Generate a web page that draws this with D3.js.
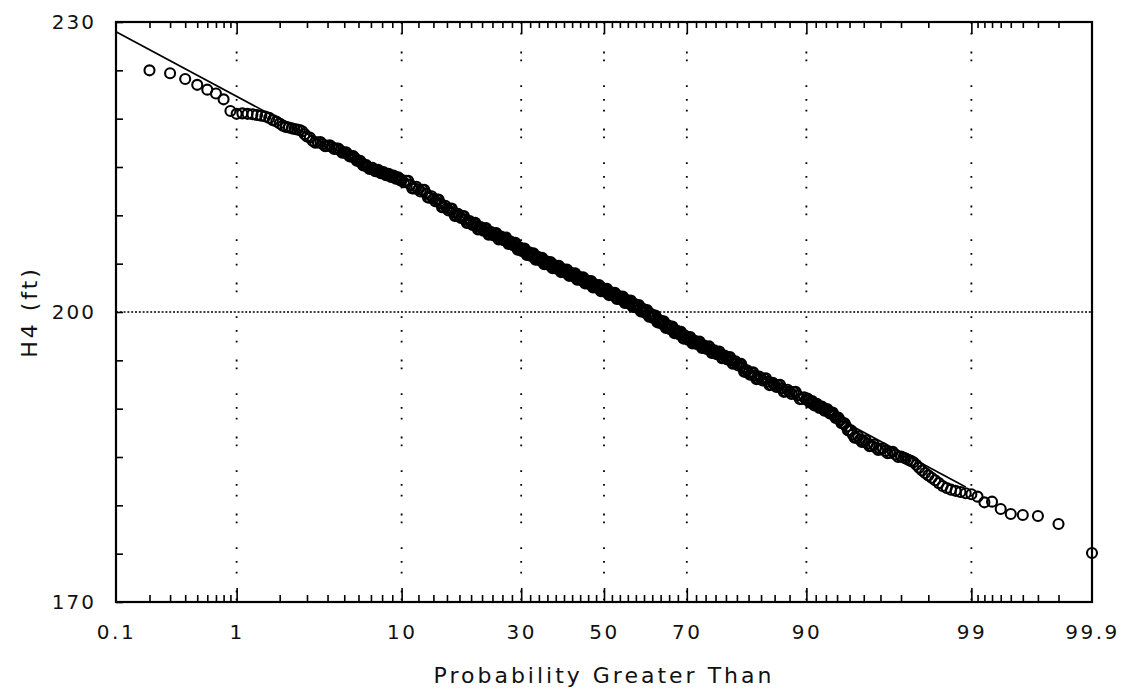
<!DOCTYPE html>
<html><head><meta charset="utf-8">
<script src="https://cdn.jsdelivr.net/npm/d3@7/dist/d3.min.js"></script>
<style>
body{margin:0;background:#fff}
text{font-family:"DejaVu Sans",sans-serif;fill:#111}
</style>
</head><body>
<svg id="chart" width="1125" height="690"></svg>
<script>
// ---------- data ----------
// Probability greater than (%) and H4 (ft) of the plotted observations
const upperProb = [0.2,0.3,0.4,0.5,0.6,0.7,0.8,0.9,1.0,1.1,1.2,1.3,1.4,1.5,1.6,1.7,1.8,1.9,2.0,2.1,2.2,2.3,2.4,2.5,2.6,2.7,2.8,2.9,3.0,3.25,3.5,3.75,4.0,4.25,4.5,4.75,5.0,5.25,5.5,5.75,6.0,6.25,6.5,6.75,7.0,7.25,7.5,7.75,8.0,8.25,8.5,8.75,9.0,9.25,9.5,9.75];
const upperH4 = [225.0,224.7,224.1,223.5,223.0,222.6,222.0,220.8,220.5,220.55,220.5,220.45,220.38,220.3,220.22,220.08,219.85,219.7,219.5,219.28,219.15,219.08,219.0,218.93,218.88,218.83,218.7,218.4,218.15,217.72,217.55,217.36,217.2,217.06,216.9,216.7,216.5,216.3,216.1,215.9,215.65,215.4,215.15,214.98,214.85,214.74,214.63,214.52,214.42,214.32,214.22,214.13,214.04,213.95,213.86,213.77];
const upperFineProb = [3.125,3.375,3.625,3.875,4.125,4.375,4.625,4.875,5.125,5.375,5.625,5.875,6.125,6.375,6.625,6.875,7.125,7.375,7.625,7.875,8.125,8.375,8.625,8.875,9.125,9.375,9.625,9.875];
const upperFineH4 = [218.05,217.52,217.58,217.16,217.25,216.86,216.92,216.48,216.52,216.08,216.12,215.66,215.65,215.16,215.19,214.8,214.92,214.57,214.7,214.35,214.49,214.15,214.3,213.97,214.12,213.79,213.94,213.6];

const middleProb = [10,10.5,11,11.5,12,12.5,13,13.5,14,14.5,15,15.5,16,16.5,17,17.5,18,18.5,19,19.5,20,20.5,21,21.5,22,22.5,23,23.5,24,24.5,25,25.5,26,26.5,27,27.5,28,28.5,29,29.5,30,30.5,31,31.5,32,32.5,33,33.5,34,34.5,35,35.5,36,36.5,37,37.5,38,38.5,39,39.5,40,40.5,41,41.5,42,42.5,43,43.5,44,44.5,45,45.5,46,46.5,47,47.5,48,48.5,49,49.5,50,50.5,51,51.5,52,52.5,53,53.5,54,54.5,55,55.5,56,56.5,57,57.5,58,58.5,59,59.5,60,60.5,61,61.5,62,62.5,63,63.5,64,64.5,65,65.5,66,66.5,67,67.5,68,68.5,69,69.5,70,70.5,71,71.5,72,72.5,73,73.5,74,74.5,75,75.5,76,76.5,77,77.5,78,78.5,79,79.5,80,80.5,81,81.5,82,82.5,83,83.5,84,84.5,85,85.5,86,86.5,87,87.5,88,88.5,89,89.5,90];
const middleH4 = [213.67,213.57,213.17,212.79,212.70,212.63,212.25,211.83,211.71,211.62,211.23,210.84,210.74,210.68,210.31,209.97,209.93,209.90,209.56,209.23,209.20,209.19,208.87,208.59,208.60,208.62,208.33,208.06,208.09,208.12,207.84,207.58,207.61,207.64,207.36,207.09,207.11,207.10,206.79,206.48,206.47,206.50,206.22,205.95,205.98,206.01,205.74,205.48,205.51,205.54,205.27,205.02,205.06,205.11,204.85,204.60,204.65,204.70,204.45,204.21,204.26,204.31,204.06,203.82,203.87,203.92,203.67,203.42,203.47,203.52,203.27,203.02,203.07,203.12,202.87,202.62,202.67,202.72,202.47,202.22,202.27,202.32,202.07,201.82,201.87,201.92,201.66,201.41,201.46,201.51,201.26,201.01,201.05,201.10,200.85,200.59,200.63,200.66,200.39,200.11,200.12,200.14,199.86,199.57,199.58,199.58,199.28,198.98,198.97,198.98,198.69,198.41,198.42,198.44,198.15,197.87,197.88,197.89,197.59,197.31,197.32,197.35,197.08,196.81,196.84,196.87,196.60,196.33,196.35,196.38,196.10,195.82,195.83,195.85,195.57,195.28,195.29,195.30,195.00,194.70,194.70,194.62,194.23,193.82,193.70,193.71,193.41,193.11,193.11,193.10,192.79,192.48,192.46,192.43,192.10,191.77,191.74,191.71,191.37,191.01,190.95];
const middleFineProb = [10.25,10.75,11.25,11.75,12.25,12.75,13.25,13.75,14.25,14.75,15.25,15.75,16.25,16.75,17.25,17.75,18.25,18.75,19.25,19.75,20.25,20.75,21.25,21.75,22.25,22.75,23.25,23.75,24.25,24.75,25.25,25.75,26.25,26.75,27.25,27.75,28.25,28.75,29.25,29.75,30.25,30.75,31.25,31.75,32.25,32.75,33.25,33.75,34.25,34.75,35.25,35.75,36.25,36.75,37.25,37.75,38.25,38.75,39.25,39.75,40.25,40.75,41.25,41.75,42.25,42.75,43.25,43.75,44.25,44.75,45.25,45.75,46.25,46.75,47.25,47.75,48.25,48.75,49.25,49.75,50.25,50.75,51.25,51.75,52.25,52.75,53.25,53.75,54.25,54.75,55.25,55.75,56.25,56.75,57.25,57.75,58.25,58.75,59.25,59.75,60.25,60.75,61.25,61.75,62.25,62.75,63.25,63.75,64.25,64.75,65.25,65.75,66.25,66.75,67.25,67.75,68.25,68.75,69.25,69.75,70.25,70.75,71.25,71.75,72.25,72.75,73.25,73.75,74.25,74.75,75.25,75.75,76.25,76.75,77.25,77.75,78.25,78.75,79.25,79.75,80.25,80.75,81.25,81.75,82.25,82.75,83.25,83.75,84.25,84.75,85.25,85.75,86.25,86.75,87.25,87.75,88.25,88.75,89.25,89.75];
const middleFineH4 = [213.42,213.57,212.78,212.95,212.47,212.64,211.84,211.97,211.47,211.63,210.84,210.99,210.51,210.70,209.94,210.15,209.72,209.93,209.20,209.42,209.00,209.23,208.53,208.80,208.41,208.68,208.00,208.28,207.91,208.18,207.51,207.80,207.43,207.70,207.03,207.30,206.91,207.15,206.44,206.68,206.29,206.56,205.89,206.17,205.80,206.08,205.41,205.70,205.33,205.61,204.95,205.24,204.89,205.18,204.53,204.83,204.48,204.78,204.13,204.44,204.09,204.39,203.74,204.05,203.70,204.00,203.35,203.65,203.30,203.60,202.95,203.25,202.90,203.20,202.55,202.85,202.50,202.80,202.15,202.45,202.10,202.40,201.75,202.05,201.70,201.99,201.34,201.64,201.29,201.59,200.94,201.23,200.88,201.18,200.52,200.81,200.45,200.73,200.05,200.32,199.93,200.20,199.52,199.78,199.38,199.63,198.93,199.18,198.78,199.04,198.35,198.62,198.23,198.50,197.81,198.08,197.69,197.94,197.25,197.52,197.14,197.42,196.75,197.03,196.66,196.94,196.27,196.54,196.17,196.44,195.76,196.03,195.64,195.91,195.23,195.49,195.10,195.35,194.65,194.90,194.46,194.63,193.83,193.96,193.51,193.76,193.06,193.31,192.91,193.15,192.44,192.67,192.25,192.47,191.74,191.96,191.53,191.74,190.99,191.18];

const lowerProb = [90.25,90.5,90.75,91,91.25,91.5,91.75,92,92.25,92.5,92.75,93,93.25,93.5,93.75,94,94.25,94.5,94.75,95,95.25,95.5,95.75,96,96.25,96.5,96.75,97,97.1,97.2,97.3,97.4,97.5,97.6,97.7,97.8,97.9,98,98.1,98.2,98.3,98.4,98.5,98.6,98.7,98.8,98.9,99,99.1,99.2,99.3,99.4,99.5,99.6,99.7,99.8,99.9];
const lowerH4 = [190.85,190.7,190.55,190.42,190.3,190.15,190.0,189.88,189.74,189.58,189.3,189.05,188.78,188.5,188.15,187.7,187.3,187.0,186.8,186.6,186.38,186.15,185.95,185.8,185.62,185.45,185.25,185.05,184.95,184.85,184.72,184.6,184.45,184.2,183.9,183.6,183.35,183.1,182.85,182.6,182.3,182.0,181.8,181.62,181.5,181.38,181.25,181.14,180.9,180.31,180.38,179.62,179.1,179.0,178.9,178.07,175.07];
const lowerFineProb = [90.125,90.375,90.625,90.875,91.125,91.375,91.625,91.875,92.125,92.375,92.625,92.875,93.125,93.375,93.625,93.875,94.125,94.375,94.625,94.875,95.125,95.375,95.625,95.875,96.125,96.375,96.625,96.875];
const lowerFineH4 = [191.05,190.63,190.78,190.34,190.51,190.08,190.23,189.79,189.96,189.51,189.59,189.03,189.07,188.49,188.48,187.78,187.75,187.0,187.15,186.55,186.74,186.12,186.3,185.73,185.91,185.39,185.55,185.0];

// fitted normal line (end points)
const fitProb = [0.1, 98.9];
const fitH4 = [229.0, 181.9];

// axes
const xLabelProbs = [0.1,1,10,30,50,70,90,99,99.9];
const xLabelText = ["0.1","1","10","30","50","70","90","99","99.9"];
const xMajorProbs = [1,10,30,50,70,90,99];
const xMinorProbs = [0.2,0.3,0.4,0.5,0.6,0.7,0.8,0.9,2,3,4,5,6,7,8,9,12,14,16,18,20,22,24,26,28,32,34,36,38,40,42,44,46,48,52,54,56,58,60,62,64,66,68,72,74,76,78,80,82,84,86,88,91,92,93,94,95,96,97,98,99.1,99.2,99.3,99.4,99.5,99.6,99.7,99.8];
const gridProbs = [1,10,30,50,70,90,99];
const yTicks = [170,175,180,185,190,195,200,205,210,215,220,225,230];
const yLabels = [170,200,230];
const yGrid = [200];
const xTitle = "Probability Greater Than";
const yTitle = "H4 (ft)";

// ---------- inverse normal CDF (probability-paper scale transform) ----------
function probit(p){
  const a=[-39.69683028665376,220.9460984245205,-275.9285104469687,138.3577518672690,-30.66479806614716,2.506628277459239];
  const b=[-54.47609879822406,161.5858368580409,-155.6989798598866,66.80131188771972,-13.28068155288572];
  const c=[-0.007784894002430293,-0.3223964580411365,-2.400758277161838,-2.549732539343734,4.374664141464968,2.938163982698783];
  const d=[0.007784695709041462,0.3224671290700398,2.445134137142996,3.754408661907416];
  const pl=0.02425, ph=1-pl;
  let q,r;
  if(p<pl){q=Math.sqrt(-2*Math.log(p));return (((((c[0]*q+c[1])*q+c[2])*q+c[3])*q+c[4])*q+c[5])/((((d[0]*q+d[1])*q+d[2])*q+d[3])*q+1);}
  if(p<=ph){q=p-0.5;r=q*q;return (((((a[0]*r+a[1])*r+a[2])*r+a[3])*r+a[4])*r+a[5])*q/(((((b[0]*r+b[1])*r+b[2])*r+b[3])*r+b[4])*r+1);}
  q=Math.sqrt(-2*Math.log(1-p));return -(((((c[0]*q+c[1])*q+c[2])*q+c[3])*q+c[4])*q+c[5])/((((d[0]*q+d[1])*q+d[2])*q+d[3])*q+1);
}
const z = p => probit(p/100);

// ---------- layout ----------
const L=116, R=1092, T=22, B=602;
const svg = d3.select("#chart");
const x = d3.scaleLinear().domain([z(0.1), z(99.9)]).range([L, R]);
const y = d3.scaleLinear().domain([170, 230]).range([B, T]);
const INK = "#000";

// grid lines
svg.append("g").selectAll("line").data(gridProbs).join("line")
  .attr("x1", d=>x(z(d))).attr("x2", d=>x(z(d)))
  .attr("y1", T).attr("y2", B)
  .attr("stroke",INK).attr("stroke-width",1.8)
  .attr("stroke-dasharray","1.8,9,1.8,17,1.8,6,1.8,24,1.8,12");
svg.append("g").selectAll("line").data(yGrid).join("line")
  .attr("x1", L).attr("x2", R)
  .attr("y1", d=>y(d)).attr("y2", d=>y(d))
  .attr("stroke",INK).attr("stroke-width",1.5)
  .attr("stroke-dasharray","2,1.8");

// axis ticks
function styleAxis(g){ g.select(".domain").remove(); g.selectAll("line").attr("stroke",INK).attr("stroke-width",1.6); }
const zTicksMajor = xMajorProbs.map(z), zTicksMinor = xMinorProbs.map(z);
svg.append("g").attr("transform",`translate(0,${B})`)
  .call(d3.axisBottom(x).tickValues(zTicksMinor).tickSize(-7).tickFormat("")).call(styleAxis);
svg.append("g").attr("transform",`translate(0,${B})`)
  .call(d3.axisBottom(x).tickValues(zTicksMajor).tickSize(-14).tickFormat("")).call(styleAxis);
svg.append("g").attr("transform",`translate(0,${T})`)
  .call(d3.axisTop(x).tickValues(zTicksMinor).tickSize(-6).tickFormat("")).call(styleAxis);
svg.append("g").attr("transform",`translate(0,${T})`)
  .call(d3.axisTop(x).tickValues(zTicksMajor).tickSize(-12).tickFormat("")).call(styleAxis);

// bottom labels
const labelAxis = svg.append("g").attr("transform",`translate(0,${B})`)
  .call(d3.axisBottom(x).tickValues(xLabelProbs.map(z)).tickSize(0).tickPadding(23)
    .tickFormat((d,i)=>xLabelText[i]));
labelAxis.select(".domain").remove();
labelAxis.selectAll("text").attr("font-size",20).attr("letter-spacing","2.5px")
  .attr("font-family","DejaVu Sans").attr("fill","#111");

// left axis
const yAxisG = svg.append("g").attr("transform",`translate(${L},0)`)
  .call(d3.axisLeft(y).tickValues(yTicks).tickSize(-7).tickPadding(20)
    .tickFormat(d=>yLabels.includes(d)?String(d):""));
styleAxis(yAxisG);
yAxisG.selectAll("text").attr("font-size",20).attr("letter-spacing","2px")
  .attr("font-family","DejaVu Sans").attr("fill","#111");

// frame
svg.append("rect").attr("x",L).attr("y",T).attr("width",R-L).attr("height",B-T)
  .attr("fill","none").attr("stroke",INK).attr("stroke-width",2.2);

// fitted line
svg.append("path")
  .datum(fitProb.map((p,i)=>[p, fitH4[i]]))
  .attr("d", d3.line().x(d=>x(z(d[0]))).y(d=>y(d[1])))
  .attr("fill","none").attr("stroke",INK).attr("stroke-width",1.7);

// observations
const obsProb = [].concat(upperProb, upperFineProb, middleProb, middleFineProb, lowerProb, lowerFineProb);
const obsH4 = [].concat(upperH4, upperFineH4, middleH4, middleFineH4, lowerH4, lowerFineH4);
const obs = obsProb.map((p,i)=>({p, v: obsH4[i]}));
svg.append("g").selectAll("circle").data(obs).join("circle")
  .attr("cx", d=>x(z(d.p))).attr("cy", d=>y(d.v))
  .attr("r",5).attr("fill","none").attr("stroke",INK).attr("stroke-width",2.1);

// titles
svg.append("text").attr("x",(L+R)/2).attr("y",683).attr("text-anchor","middle")
  .attr("font-size",22).attr("letter-spacing","3px").text(xTitle);
svg.append("text").attr("transform","translate(37,312) rotate(-90)").attr("text-anchor","middle")
  .attr("font-size",22).attr("letter-spacing","3px").text(yTitle);
</script>
</body></html>
